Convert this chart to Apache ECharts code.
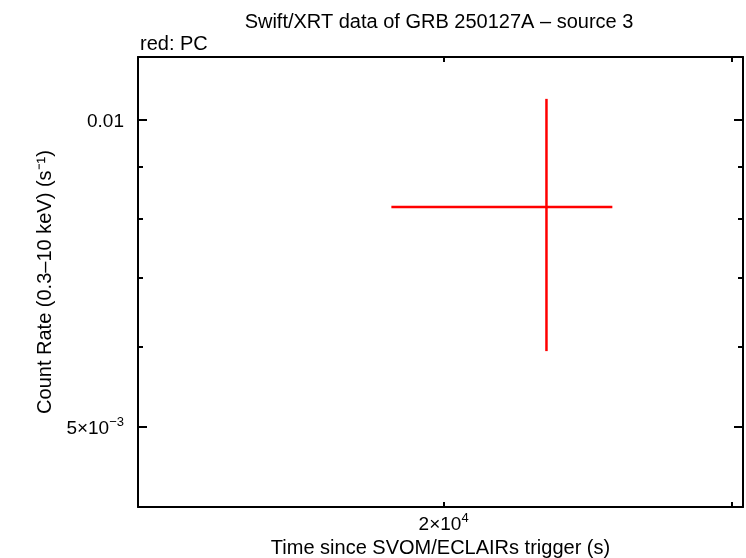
<!DOCTYPE html>
<html><head><meta charset="utf-8">
<script src="https://cdn.jsdelivr.net/npm/echarts@6/dist/echarts.min.js"></script>
<style>html,body{margin:0;padding:0;background:#fff}#c{width:746px;height:558px}</style>
</head><body><div id="c"></div>
<script>
// Data
const times = [23120];
const timeLo = [18580];
const timeHi = [25370];
const rates = [0.008217];
const rateLo = [0.005935];
const rateHi = [0.01049];
const xMajorTicks = [20000];
const xMinorTicks = [30000];
const yMajorTicks = [0.005, 0.01];
const yMinorTicks = [0.006, 0.007, 0.008, 0.009];
const xTickLabels = ['{b|2×10}{s|4}'];
const yTickLabels = ['{b|5×10}{s|\u22123}', '{b|0.01}'];

const xMin = 13000, xMax = 30500, yMin = 0.004174, yMax = 0.01153;
const FONT = 'Liberation Sans, Arial, sans-serif';

const chart = echarts.init(document.getElementById('c'));
const data = times.map((t, i) => [t, rates[i], timeLo[i], timeHi[i], rateLo[i], rateHi[i]]);

const rich = {
  b: {fontSize: 19, fontFamily: FONT, color: '#000', lineHeight: 22, verticalAlign: 'bottom'},
  s: {fontSize: 13, fontFamily: FONT, color: '#000', lineHeight: 22, verticalAlign: 'top', padding: [0, 0, 8, 0]}
};
function findLabel(ticks, labels, v) {
  for (let i = 0; i < ticks.length; i++) if (Math.abs(ticks[i] - v) / ticks[i] < 1e-6) return labels[i];
  return '';
}
function xAx(pos, ticks, len, labels) {
  return {
    type: 'log', logBase: 10, min: xMin, max: xMax, position: pos,
    axisLine: {show: true, onZero: false, lineStyle: {color: '#000', width: 2}},
    axisTick: {show: true, inside: true, length: len, customValues: ticks, lineStyle: {color: '#000', width: 2}},
    axisLabel: {show: labels, customValues: xMajorTicks, formatter: v => findLabel(xMajorTicks, xTickLabels, v), rich: rich, margin: 5},
    splitLine: {show: false}, minorTick: {show: false}
  };
}
function yAx(pos, ticks, len, labels, line) {
  return {
    type: 'log', logBase: 10, min: yMin, max: yMax, position: pos,
    axisLine: {show: line, onZero: false, lineStyle: {color: '#000', width: 2}},
    axisTick: {show: true, inside: true, length: len, customValues: ticks, lineStyle: {color: '#000', width: 2}},
    axisLabel: {show: labels, customValues: yMajorTicks, formatter: v => findLabel(yMajorTicks, yTickLabels, v), rich: rich, margin: 14},
    splitLine: {show: false}, minorTick: {show: false}
  };
}

const xAxes = [xAx('bottom', xMajorTicks.concat(xMinorTicks), 5, true), xAx('top', xMajorTicks.concat(xMinorTicks), 5, false)];
xAxes[0].name = 'Time since SVOM/ECLAIRs trigger (s)';
xAxes[0].nameLocation = 'middle';
xAxes[0].nameGap = 30;
xAxes[0].nameTextStyle = {color: '#000', fontSize: 20, fontFamily: FONT};

const yAxes = [yAx('left', yMajorTicks, 9, true, true), yAx('right', yMajorTicks, 9, false, true),
  yAx('left', yMinorTicks, 5, false, false), yAx('right', yMinorTicks, 5, false, false)];
yAxes[0].name = 'Count Rate (0.3\u201310 keV) (s\u207B\u00B9)';
yAxes[0].nameLocation = 'middle';
yAxes[0].nameGap = 81;
yAxes[0].nameTextStyle = {color: '#000', fontSize: 20, fontFamily: FONT};

chart.setOption({
  animation: false,
  backgroundColor: '#fff',
  title: [
    {text: 'Swift/XRT data of GRB 250127A \u2013 source 3', left: 434, top: 7, textAlign: 'center',
     textStyle: {color: '#000', fontSize: 20, fontWeight: 'normal', fontFamily: FONT}},
    {text: 'red: PC', left: 135, top: 29,
     textStyle: {color: '#000', fontSize: 20, fontWeight: 'normal', fontFamily: FONT}}
  ],
  grid: {left: 138, right: 3, top: 57, bottom: 51, containLabel: false, outerBoundsMode: 'none'},
  xAxis: xAxes,
  yAxis: yAxes,
  series: [{
    type: 'custom', xAxisIndex: 0, yAxisIndex: 0, data: data,
    renderItem: function (params, api) {
      const c = api.coord([api.value(0), api.value(1)]);
      const l = api.coord([api.value(2), api.value(1)]);
      const r = api.coord([api.value(3), api.value(1)]);
      const b = api.coord([api.value(0), api.value(4)]);
      const t = api.coord([api.value(0), api.value(5)]);
      const st = {stroke: '#ff0000', lineWidth: 2.5};
      return {type: 'group', children: [
        {type: 'line', shape: {x1: l[0], y1: c[1], x2: r[0], y2: c[1]}, style: st},
        {type: 'line', shape: {x1: c[0], y1: t[1], x2: c[0], y2: b[1]}, style: st}
      ]};
    }
  }]
});
</script></body></html>
